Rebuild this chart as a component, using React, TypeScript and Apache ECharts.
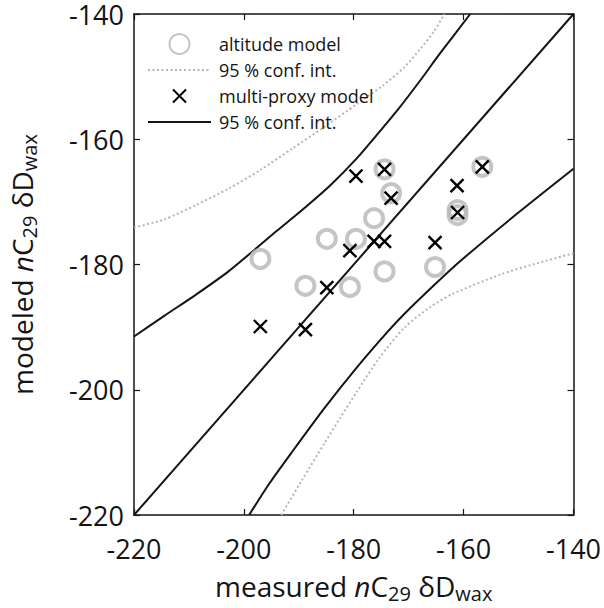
import React, { useEffect, useRef } from "react";
import * as echarts from "echarts";

const ticks = [-220, -200, -180, -160, -140];

const altitudeX = [-197.0, -188.8, -184.9, -180.7, -179.6, -176.3, -174.4, -173.2, -174.4, -165.2, -161.1, -161.1, -156.6];
const altitudeY = [-179.1, -183.4, -175.9, -183.6, -175.9, -172.6, -164.8, -168.6, -181.1, -180.4, -171.3, -172.1, -164.4];

const proxyX = [-179.6, -174.4, -173.2, -161.2, -161.1, -156.6, -176.3, -174.4, -165.2, -180.7, -184.9, -197.0, -188.8];
const proxyY = [-165.9, -164.8, -169.4, -167.4, -171.7, -164.4, -176.3, -176.3, -176.5, -177.8, -183.7, -189.9, -190.4];

const proxyUpperX = [-220, -214.5, -208.7, -202.8, -194.1, -189.4, -184.2, -179.5, -175.4, -171.9, -167.8, -164.3, -158.8];
const proxyUpperY = [-191.5, -188.2, -184.8, -181.1, -174.7, -171.3, -167.3, -163.1, -158.9, -155.2, -150.5, -146.3, -140];
const proxyLowerX = [-199.05, -195.3, -191.2, -185.3, -179.5, -173.7, -170.8, -165.5, -160.8, -150.3, -140];
const proxyLowerY = [-220, -214.9, -209.9, -202.9, -196.5, -190.6, -187.9, -183.4, -179.6, -171.9, -164.7];

const altUpperX = [-220, -214.5, -208.7, -202.8, -197.0, -191.2, -185.3, -179.5, -174.8, -170.8, -167.8, -165.5, -163.5];
const altUpperY = [-174.1, -172.8, -170.5, -167.9, -164.9, -161.5, -158.0, -154.4, -151.5, -148.5, -145.5, -142.9, -140];
const altLowerX = [-193.2, -189.4, -185.3, -182.4, -179.5, -175.4, -170.8, -166.1, -162.0, -153.3, -147.4, -140];
const altLowerY = [-220, -214.4, -208.5, -204.4, -200.4, -195.0, -190.1, -186.8, -184.7, -181.6, -180.0, -178.2];

const oneToOneX = [-220, -140];
const oneToOneY = [-220, -140];

const zip = (xs: number[], ys: number[]) => xs.map((x, i) => [x, ys[i]]);

const FONT = "Open Sans";
const BLACK = "#141414";
const GRAY = "#b6b6b6";

const nameRich = {
  a: { fontSize: 28, fontFamily: FONT, color: BLACK, lineHeight: 34 },
  i: { fontSize: 28, fontFamily: FONT, color: BLACK, lineHeight: 34, fontStyle: "italic" },
  s: { fontSize: 20, fontFamily: FONT, color: BLACK, lineHeight: 16, verticalAlign: "bottom" },
};

export default function App() {
  const ref = useRef<HTMLDivElement>(null);
  useEffect(() => {
    if (!ref.current) return;
    const chart = echarts.init(ref.current, null, { renderer: "svg" });
    const axisCommon = {
      type: "value",
      min: ticks[0],
      max: ticks[ticks.length - 1],
      interval: 20,
      splitLine: { show: false },
      axisLine: { show: true, lineStyle: { color: BLACK, width: 1.5 } },
      axisTick: { show: true, inside: true, length: 6, lineStyle: { color: BLACK, width: 1.2 } },
    };
    const bandLine = (color: string, dotted: boolean) => ({
      color,
      width: 2,
      type: dotted ? [2, 2.5] : "solid",
    });
    const band = (name: string, xs: number[], ys: number[], color: string, dotted: boolean, z: number) => ({
      name,
      type: "line",
      data: zip(xs, ys),
      smooth: 0.25,
      showSymbol: false,
      symbol: "none",
      itemStyle: { color },
      lineStyle: bandLine(color, dotted),
      z,
    });
    chart.setOption({
      animation: false,
      backgroundColor: "#ffffff",
      grid: { left: 122, top: 14, width: 457, height: 505, containLabel: false },
      legend: {
        orient: "vertical",
        left: 147,
        top: 33,
        padding: 0,
        itemWidth: 63,
        itemHeight: 20,
        itemGap: 6,
        data: [
          { name: "altitude model" },
          { name: "95 % conf. int.", itemStyle: { opacity: 0 } },
          { name: "multi-proxy model", icon: "path://M0,0M20,20M3.5,3.5L16.5,16.5M16.5,3.5L3.5,16.5" },
          { name: "95 % conf. int. ", itemStyle: { opacity: 0 } },
        ],
        formatter: (n: string) => n.trim(),
        textStyle: { fontFamily: FONT, fontSize: 18, color: BLACK, padding: [0, 0, 0, 3] },
        selectedMode: false,
      },
      xAxis: [
        {
          ...axisCommon,
          position: "bottom",
          axisLabel: { fontFamily: FONT, fontSize: 27, color: BLACK, margin: 20 },
          name: "{a|measured }{i|n}{a|C}{s|29}{a| δD}{s|wax}",
          nameLocation: "middle",
          nameGap: 54,
          nameTextStyle: { rich: nameRich },
        },
        { ...axisCommon, position: "top", axisLabel: { show: false } },
      ],
      yAxis: [
        {
          ...axisCommon,
          position: "left",
          axisLabel: { fontFamily: FONT, fontSize: 27, lineHeight: 22, padding: [6, 0, 0, 0], color: BLACK, margin: 10 },
          name: "{a|modeled }{i|n}{a|C}{s|29}{a| δD}{s|wax}",
          nameLocation: "middle",
          nameGap: 95,
          nameTextStyle: { rich: nameRich },
        },
        { ...axisCommon, position: "right", axisLabel: { show: false } },
      ],
      series: [
        band("95 % conf. int.", altUpperX, altUpperY, GRAY, true, 1),
        band("95 % conf. int.", altLowerX, altLowerY, GRAY, true, 1),
        band("95 % conf. int. ", proxyUpperX, proxyUpperY, BLACK, false, 2),
        band("95 % conf. int. ", proxyLowerX, proxyLowerY, BLACK, false, 2),
        {
          name: "1:1",
          type: "line",
          data: zip(oneToOneX, oneToOneY),
          showSymbol: false,
          symbol: "none",
          itemStyle: { color: BLACK },
          lineStyle: bandLine(BLACK, false),
          z: 2,
        },
        {
          name: "altitude model",
          type: "scatter",
          data: zip(altitudeX, altitudeY),
          symbol: "circle",
          symbolSize: 18,
          itemStyle: { color: "rgba(255,255,255,0)", borderColor: GRAY, borderWidth: 4 },
          z: 3,
        },
        {
          name: "multi-proxy model",
          type: "scatter",
          data: zip(proxyX, proxyY),
          symbol: "path://M0,0L10,10M10,0L0,10",
          symbolSize: 13,
          itemStyle: { color: "rgba(0,0,0,0)", borderColor: "#000000", borderWidth: 2.4, opacity: 1 },
          z: 4,
        },
      ],
    });
    return () => chart.dispose();
  }, []);
  return <div ref={ref} style={{ position: "fixed", left: 0, top: 0, width: 604, height: 608 }} />;
}
